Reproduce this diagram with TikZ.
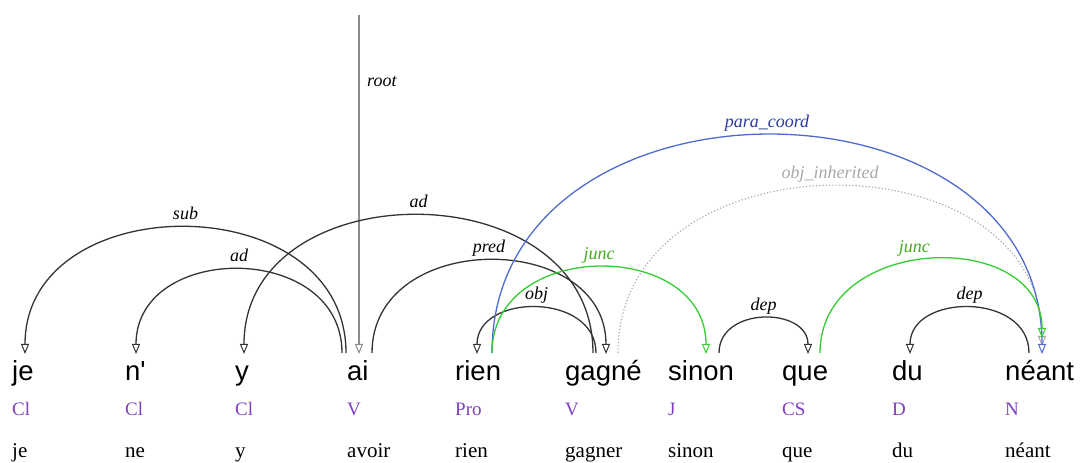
\documentclass[tikz,border=0pt]{standalone}
\usepackage{fontspec}
\setmainfont{Liberation Serif}
\newfontfamily\wordfont{Liberation Sans}
\usetikzlibrary{arrows.meta}
\definecolor{posc}{HTML}{7F3FBF}
\definecolor{bluel}{HTML}{4F6BD0}
\definecolor{bluet}{HTML}{2A3A9E}
\definecolor{greenl}{HTML}{33CC33}
\definecolor{greent}{HTML}{44AA22}
\definecolor{greyl}{HTML}{A8A8A8}
\definecolor{arcc}{HTML}{333333}
\definecolor{rootc}{HTML}{8A8A8A}
\tikzset{
  x=1pt,y=1pt,
  wordbox/.style={anchor=base west,inner sep=0pt,font=\wordfont\fontsize{27.5}{30}\selectfont},
  postag/.style={anchor=base west,inner sep=0pt,text=posc,font=\fontsize{19}{22}\selectfont},
  lemmabox/.style={anchor=base west,inner sep=0pt,font=\fontsize{21}{24}\selectfont},
  rel/.style={draw=arcc,line width=1.3pt,-{Triangle[open,length=10pt,width=8pt,line width=1pt]}},
  lab/.style={anchor=base,inner sep=0pt,yshift=8pt,font=\itshape\fontsize{18}{20}\selectfont},
}
\begin{document}
\begin{tikzpicture}
\useasboundingbox (0,0) rectangle (1082,463);
% words
\foreach \n/\x/\w/\p/\l in {je/12/je/Cl/je, n/125/n'/Cl/ne, y/235/y/Cl/y, ai/347/ai/V/avoir,
  rien/455/rien/Pro/rien, gagne/565/gagné/V/gagner, sinon/668/sinon/J/sinon,
  que/782/que/CS/que, du/892/du/D/du, neant/1005/néant/N/néant}{
  \node[wordbox] (w-\n) at (\x,82) {\w};
  \node[postag] (p-\n) at (\x,47) {\p};
  \node[lemmabox] (l-\n) at (\x,5) {\l};
}
% attachment points
\coordinate (je-a) at (25,109);
\coordinate (n-a) at (136,109);
\coordinate (y-a) at (244,109);
\coordinate (ai-a) at (346,110);
\coordinate (ai-b) at (342,110);
\coordinate (ai-c) at (359,109);
\coordinate (ai-d) at (372,110);
\coordinate (root-a) at (359,448);
\coordinate (rien-a) at (477,109);
\coordinate (rien-b) at (492,110);
\coordinate (gagne-a) at (593,110);
\coordinate (gagne-b) at (596,110);
\coordinate (gagne-c) at (606,109);
\coordinate (gagne-d) at (618,110);
\coordinate (sinon-a) at (706,109);
\coordinate (sinon-b) at (719,110);
\coordinate (que-a) at (808,109);
\coordinate (que-b) at (820,110);
\coordinate (du-a) at (910,109);
\coordinate (neant-a) at (1029,110);
\coordinate (neant-b) at (1042,109);
\coordinate (neant-c) at (1042,117);
\coordinate (neant-d) at (1042,125);
% root
\draw[rel,draw=rootc,line width=1.6pt] (root-a) -- (ai-c);
\node[anchor=base west,inner sep=0pt,font=\itshape\fontsize{18}{20}\selectfont] (root-l) at (367,376) {root};
% arcs
\draw[rel] (ai-a) .. controls +(0,168) and +(0,168) .. (je-a) node[midway,lab] {sub};
\draw[rel] (ai-b) .. controls +(0,112) and +(0,112) .. (n-a) node[midway,lab] {ad};
\draw[rel] (gagne-a) .. controls +(0,184) and +(0,184) .. (y-a) node[midway,lab] {ad};
\draw[rel] (ai-d) .. controls +(0,124) and +(0,124) .. (gagne-c) node[midway,lab] {pred};
\draw[rel] (gagne-b) .. controls +(0,61) and +(0,61) .. (rien-a) node[midway,lab] {obj};
\draw[rel,draw=greyl,dotted,line width=1.1pt] (gagne-d) .. controls +(0,221) and +(0,214) .. (neant-c) node[midway,lab,text=greyl] {obj\_inherited};
\draw[rel,draw=bluel] (rien-b) .. controls +(0,291) and +(0,291) .. (neant-b) node[midway,lab,text=bluet] {para\_coord};
\draw[rel,draw=greenl] (rien-b) .. controls +(0,115) and +(0,115) .. (sinon-a) node[midway,lab,text=greent] {junc};
\draw[rel] (sinon-b) .. controls +(0,47) and +(0,47) .. (que-a) node[midway,lab] {dep};
\draw[rel,draw=greenl] (que-b) .. controls +(0,120) and +(0,110) .. (neant-d) node[pos=0.45,lab,text=greent] {junc};
\draw[rel] (neant-a) .. controls +(0,61) and +(0,61) .. (du-a) node[midway,lab] {dep};
\end{tikzpicture}
\end{document}
